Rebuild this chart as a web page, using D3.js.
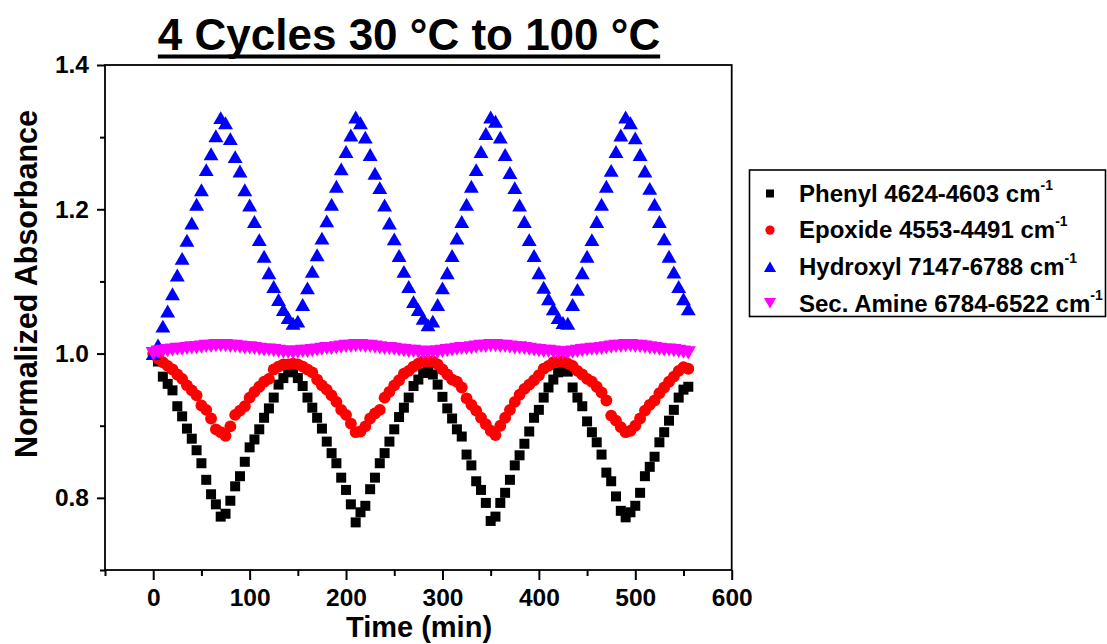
<!DOCTYPE html>
<html>
<head>
<meta charset="utf-8">
<script src="https://cdn.jsdelivr.net/npm/d3@7"></script>
<style>
  html, body { margin: 0; padding: 0; background: #fff; }
  svg { display: block; font-family: Arial, "Liberation Sans", sans-serif; font-weight: bold; }
</style>
</head>
<body>
<svg id="chart" width="1107" height="644"></svg>
<script>
// Time axis (min), sampled every 5 minutes
const time = [
  0, 5, 10, 15, 20, 25, 30, 35, 40, 45, 50, 55, 60, 65, 70, 75, 80, 85, 90, 95,
  100, 105, 110, 115, 120, 125, 130, 135, 140, 145, 150, 155, 160, 165, 170, 175, 180, 185, 190, 195,
  200, 205, 210, 215, 220, 225, 230, 235, 240, 245, 250, 255, 260, 265, 270, 275, 280, 285, 290, 295,
  300, 305, 310, 315, 320, 325, 330, 335, 340, 345, 350, 355, 360, 365, 370, 375, 380, 385, 390, 395,
  400, 405, 410, 415, 420, 425, 430, 435, 440, 445, 450, 455, 460, 465, 470, 475, 480, 485, 490, 495,
  500, 505, 510, 515, 520, 525, 530, 535, 540, 545, 550, 555
];

// Normalized absorbance per band
const phenyl = [
  1.000, 0.989, 0.968, 0.958, 0.949, 0.927, 0.913, 0.896, 0.882, 0.866, 0.848, 0.825, 0.805, 0.791, 0.774, 0.778, 0.796, 0.816, 0.830, 0.850,
  0.870, 0.881, 0.895, 0.911, 0.924, 0.939, 0.957, 0.966, 0.974, 0.977, 0.966, 0.955, 0.939, 0.925, 0.911, 0.896, 0.878, 0.862, 0.848, 0.828,
  0.811, 0.791, 0.766, 0.780, 0.789, 0.812, 0.828, 0.848, 0.862, 0.878, 0.895, 0.912, 0.925, 0.939, 0.955, 0.964, 0.973, 0.979, 0.971, 0.957,
  0.940, 0.924, 0.910, 0.895, 0.885, 0.860, 0.845, 0.823, 0.811, 0.793, 0.768, 0.774, 0.793, 0.807, 0.825, 0.845, 0.859, 0.875, 0.892, 0.911,
  0.922, 0.939, 0.953, 0.964, 0.974, 0.976, 0.975, 0.953, 0.939, 0.927, 0.906, 0.891, 0.877, 0.860, 0.835, 0.823, 0.802, 0.782, 0.773, 0.780,
  0.789, 0.807, 0.830, 0.843, 0.857, 0.877, 0.891, 0.907, 0.922, 0.939, 0.950, 0.954
];
const epoxide = [
  1.000, 0.993, 0.988, 0.983, 0.978, 0.971, 0.965, 0.956, 0.949, 0.942, 0.928, 0.922, 0.910, 0.895, 0.891, 0.886, 0.899, 0.915, 0.921, 0.927,
  0.939, 0.947, 0.954, 0.961, 0.965, 0.978, 0.982, 0.985, 0.985, 0.986, 0.985, 0.982, 0.978, 0.974, 0.964, 0.956, 0.950, 0.942, 0.933, 0.922,
  0.915, 0.903, 0.891, 0.892, 0.899, 0.910, 0.917, 0.922, 0.939, 0.947, 0.956, 0.963, 0.972, 0.976, 0.982, 0.986, 0.989, 0.989, 0.989, 0.985,
  0.978, 0.971, 0.964, 0.961, 0.953, 0.938, 0.929, 0.921, 0.911, 0.902, 0.893, 0.887, 0.900, 0.911, 0.922, 0.933, 0.943, 0.951, 0.957, 0.963,
  0.970, 0.979, 0.983, 0.988, 0.989, 0.989, 0.986, 0.983, 0.976, 0.971, 0.965, 0.961, 0.954, 0.946, 0.935, 0.914, 0.907, 0.898, 0.891, 0.893,
  0.900, 0.910, 0.921, 0.929, 0.935, 0.945, 0.953, 0.961, 0.968, 0.976, 0.981, 0.979
];
const hydroxyl = [
  1.000, 1.012, 1.038, 1.059, 1.083, 1.109, 1.132, 1.157, 1.181, 1.207, 1.227, 1.255, 1.277, 1.302, 1.327, 1.320, 1.298, 1.273, 1.253, 1.227,
  1.206, 1.183, 1.158, 1.135, 1.112, 1.093, 1.075, 1.061, 1.050, 1.042, 1.045, 1.068, 1.091, 1.114, 1.137, 1.160, 1.184, 1.207, 1.232, 1.256,
  1.280, 1.303, 1.328, 1.320, 1.300, 1.276, 1.250, 1.230, 1.206, 1.181, 1.159, 1.136, 1.114, 1.093, 1.072, 1.061, 1.049, 1.040, 1.045, 1.068,
  1.091, 1.112, 1.136, 1.160, 1.183, 1.207, 1.232, 1.255, 1.280, 1.305, 1.328, 1.322, 1.300, 1.276, 1.251, 1.230, 1.206, 1.183, 1.158, 1.136,
  1.112, 1.092, 1.076, 1.062, 1.050, 1.043, 1.042, 1.068, 1.089, 1.112, 1.135, 1.158, 1.183, 1.207, 1.232, 1.254, 1.280, 1.303, 1.328, 1.320,
  1.299, 1.276, 1.253, 1.229, 1.207, 1.183, 1.159, 1.135, 1.113, 1.093, 1.076, 1.062
];
const secAmine = [
  1.000, 1.002, 1.003, 1.004, 1.005, 1.006, 1.006, 1.007, 1.008, 1.008, 1.009, 1.010, 1.010, 1.011, 1.011,
  1.011, 1.010, 1.010, 1.009, 1.008, 1.008, 1.007, 1.006, 1.005, 1.005, 1.004, 1.003, 1.002, 1.002,
  1.001,
  1.002, 1.003, 1.003, 1.004, 1.005, 1.006, 1.007, 1.007, 1.008, 1.009, 1.010, 1.010, 1.011,
  1.011, 1.010, 1.010, 1.009, 1.008, 1.007, 1.007, 1.006, 1.005, 1.004, 1.003, 1.003, 1.002, 1.001,
  1.001,
  1.002, 1.002, 1.003, 1.004, 1.005, 1.006, 1.007, 1.007, 1.008, 1.009, 1.010, 1.010, 1.011,
  1.011, 1.010, 1.010, 1.009, 1.008, 1.008, 1.007, 1.006, 1.005, 1.004, 1.003, 1.003, 1.002, 1.001,
  1.001,
  1.001, 1.002, 1.003, 1.004, 1.005, 1.006, 1.006, 1.007, 1.008, 1.009, 1.010, 1.010, 1.011,
  1.011, 1.010, 1.010, 1.009, 1.008, 1.007, 1.006, 1.005, 1.005, 1.004, 1.003, 1.002, 1.001
];

const seriesNames = ["Phenyl 4624-4603 cm", "Epoxide 4553-4491 cm", "Hydroxyl 7147-6788 cm", "Sec. Amine 6784-6522 cm"];

const xMajorTicks = [0, 100, 200, 300, 400, 500, 600];
const xMinorTicks = [-50, 50, 150, 250, 350, 450, 550];
const yMajorTicks = [0.8, 1.0, 1.2, 1.4];
const yMinorTicks = [0.7, 0.9, 1.1, 1.3];

const titleText = "4 Cycles 30 \u00B0C to 100 \u00B0C";
const xTitle = "Time (min)";
const yTitle = "Normalized Absorbance";

// Triangles centred on their bounding box (up / down)
const triUp = {
  draw(ctx, size) {
    const s = Math.sqrt(size * 4 / Math.sqrt(3)); // side length
    const h = s * Math.sqrt(3) / 2;
    ctx.moveTo(0, -h / 2); ctx.lineTo(s / 2, h / 2); ctx.lineTo(-s / 2, h / 2); ctx.closePath();
  }
};
const triDown = {
  draw(ctx, size) {
    const s = Math.sqrt(size * 4 / Math.sqrt(3));
    const h = s * Math.sqrt(3) / 2;
    ctx.moveTo(0, h / 2); ctx.lineTo(s / 2, -h / 2); ctx.lineTo(-s / 2, -h / 2); ctx.closePath();
  }
};

const series = [
  { name: seriesNames[0], values: phenyl,   color: "#000000", type: d3.symbolSquare, size: 100, lsize: 64 },
  { name: seriesNames[1], values: epoxide,  color: "#ff0000", type: d3.symbolCircle, size: 110, lsize: 68 },
  { name: seriesNames[2], values: hydroxyl, color: "#0000ff", type: triUp,           size: 96,  lsize: 64 },
  { name: seriesNames[3], values: secAmine, color: "#ff00ff", type: triDown,         size: 100, lsize: 64 }
];

const svg = d3.select("#chart");
const plot = { left: 105, right: 731.7, top: 65, bottom: 570 };

const x = d3.scaleLinear().domain([-50, 600]).range([plot.left, plot.right]);
const y = d3.scaleLinear().domain([0.7, 1.4]).range([plot.bottom, plot.top]);

// Axes: major + minor ticks pointing outward
function styleAxis(g) {
  g.select(".domain").remove();
  g.selectAll(".tick line").attr("stroke", "#000").attr("stroke-width", 2);
  g.selectAll(".tick text").attr("fill", "#000").attr("font-size", 24.5).attr("font-weight", "bold")
    .attr("font-family", "Arial, 'Liberation Sans', sans-serif");
}

svg.append("g").attr("transform", `translate(0,${plot.bottom})`)
  .call(d3.axisBottom(x).tickValues(xMajorTicks).tickSize(10).tickPadding(8).tickFormat(d3.format("d")))
  .call(styleAxis)
  .call(g => g.selectAll(".tick text").attr("dy", "0.71em").attr("y", 19));
svg.append("g").attr("transform", `translate(0,${plot.bottom})`)
  .call(d3.axisBottom(x).tickValues(xMinorTicks).tickSize(6).tickFormat(""))
  .call(styleAxis);

svg.append("g").attr("transform", `translate(${plot.left},0)`)
  .call(d3.axisLeft(y).tickValues(yMajorTicks).tickSize(8).tickPadding(8).tickFormat(d3.format(".1f")))
  .call(styleAxis);
svg.append("g").attr("transform", `translate(${plot.left},0)`)
  .call(d3.axisLeft(y).tickValues(yMinorTicks).tickSize(5).tickFormat(""))
  .call(styleAxis);

// Frame
svg.append("rect")
  .attr("x", plot.left).attr("y", plot.top)
  .attr("width", plot.right - plot.left).attr("height", plot.bottom - plot.top)
  .attr("fill", "none").attr("stroke", "#000").attr("stroke-width", 1.8);

// Data markers
const marks = svg.append("g");
series.forEach(s => {
  const sym = d3.symbol().type(s.type).size(s.size);
  marks.append("g").selectAll("path")
    .data(time.map((t, i) => ({ t, v: s.values[i] })))
    .join("path")
    .attr("transform", d => `translate(${x(d.t)},${y(d.v)})`)
    .attr("d", sym())
    .attr("fill", s.color);
});

// Title with underline
const title = svg.append("text")
  .attr("x", 409).attr("y", 50)
  .attr("text-anchor", "middle")
  .attr("font-size", 44)
  .text(titleText);
const tw = title.node().getComputedTextLength();
svg.append("line")
  .attr("x1", 409 - tw / 2).attr("x2", 409 + tw / 2)
  .attr("y1", 56.5).attr("y2", 56.5)
  .attr("stroke", "#000").attr("stroke-width", 4);

// Axis titles
svg.append("text")
  .attr("x", 419).attr("y", 637)
  .attr("text-anchor", "middle").attr("font-size", 29)
  .text(xTitle);
svg.append("text")
  .attr("transform", "translate(37,284) rotate(-90)")
  .attr("text-anchor", "middle").attr("font-size", 30.5)
  .text(yTitle);

// Legend
const legend = svg.append("g");
legend.append("rect")
  .attr("x", 749.5).attr("y", 170).attr("width", 356).attr("height", 146.5)
  .attr("fill", "#fff").attr("stroke", "#000").attr("stroke-width", 1.6);
series.forEach((s, i) => {
  const cy = 193.5 + i * 36.6;
  legend.append("path")
    .attr("transform", `translate(770,${cy})`)
    .attr("d", d3.symbol().type(s.type).size(s.lsize)())
    .attr("fill", s.color);
  const t = legend.append("text")
    .attr("x", 799).attr("y", cy + 8.3)
    .attr("font-size", 24);
  t.append("tspan").text(s.name);
  t.append("tspan").attr("font-size", 14).attr("dy", -12).text("-1");
});
</script>
</body>
</html>
